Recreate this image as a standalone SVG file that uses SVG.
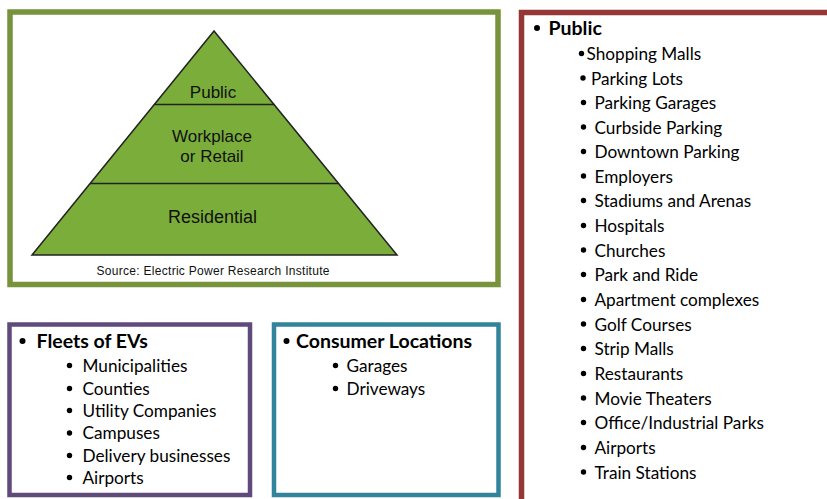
<svg xmlns="http://www.w3.org/2000/svg" width="827" height="499" viewBox="0 0 827 499">
<style>
.box{fill:#ffffff;}
.lvl{fill:#7aad3a;stroke:#222;stroke-width:1.5;}
.pt{font-family:"Liberation Sans",Arial,sans-serif;fill:#111;text-anchor:middle;}
.h{font-family:Lato,"Liberation Sans",sans-serif;font-weight:bold;font-size:19.5px;fill:#000;}
.i{font-family:Lato,"Liberation Sans",sans-serif;font-size:17.2px;fill:#000;}
.b{fill:#000;}
</style>
<rect width="827" height="499" fill="#fff"/>
<g id="pyramid-box">
<rect class="box" x="10" y="12" width="488" height="272.5" stroke="#77933c" stroke-width="5.5"/>
<polygon class="lvl" points="214,31 32,255 397,255"/>
<line x1="154.5" y1="104.5" x2="274.5" y2="104.5" stroke="#222" stroke-width="1.5"/>
<line x1="90" y1="183.5" x2="338.5" y2="183.5" stroke="#222" stroke-width="1.5"/>
<text class="pt" x="213" y="98" font-size="17">Public</text>
<text class="pt" x="212" y="141.5" font-size="17">Workplace</text>
<text class="pt" x="212" y="161.5" font-size="17">or Retail</text>
<text class="pt" x="212.5" y="223" font-size="18">Residential</text>
<text class="pt" x="213" y="275" font-size="12" textLength="233">Source: Electric Power Research Institute</text>
</g>
<g id="public-box">
<rect class="box" x="521.5" y="12.5" width="330" height="500" stroke="#953735" stroke-width="5.5"/>
<circle class="b" cx="537" cy="28" r="3"/>
<text class="h" x="548.5" y="35">Public</text>
<circle class="b" cx="581.5" cy="53.5" r="2.7"/>
<text class="i" x="586.5" y="60">Shopping Malls</text>
<circle class="b" cx="583" cy="78" r="2.7"/>
<text class="i" x="591" y="85">Parking Lots</text>
<g class="i">
<text x="594.5" y="109">Parking Garages</text>
<text x="594.5" y="133.5">Curbside Parking</text>
<text x="594.5" y="158">Downtown Parking</text>
<text x="594.5" y="182.5">Employers</text>
<text x="594.5" y="207">Stadiums and Arenas</text>
<text x="594.5" y="232">Hospitals</text>
<text x="594.5" y="256.5">Churches</text>
<text x="594.5" y="281">Park and Ride</text>
<text x="594.5" y="306">Apartment complexes</text>
<text x="594.5" y="330.5">Golf Courses</text>
<text x="594.5" y="355">Strip Malls</text>
<text x="594.5" y="380">Restaurants</text>
<text x="594.5" y="404.5">Movie Theaters</text>
<text x="594.5" y="429">Office/Industrial Parks</text>
<text x="594.5" y="454">Airports</text>
<text x="594.5" y="478.5">Train Stations</text>
</g>
<g class="b">
<circle cx="583.5" cy="102.5" r="2.7"/>
<circle cx="583.5" cy="127" r="2.7"/>
<circle cx="583.5" cy="151.5" r="2.7"/>
<circle cx="583.5" cy="176" r="2.7"/>
<circle cx="583.5" cy="200.5" r="2.7"/>
<circle cx="583.5" cy="225.5" r="2.7"/>
<circle cx="583.5" cy="250" r="2.7"/>
<circle cx="583.5" cy="274.5" r="2.7"/>
<circle cx="583.5" cy="299.5" r="2.7"/>
<circle cx="583.5" cy="324" r="2.7"/>
<circle cx="583.5" cy="348.5" r="2.7"/>
<circle cx="583.5" cy="373.5" r="2.7"/>
<circle cx="583.5" cy="398" r="2.7"/>
<circle cx="583.5" cy="422.5" r="2.7"/>
<circle cx="583.5" cy="447.5" r="2.7"/>
<circle cx="583.5" cy="472" r="2.7"/>
</g>
</g>
<g id="fleets-box">
<rect class="box" x="9.5" y="324.5" width="240.5" height="170.5" stroke="#604a7b" stroke-width="4.5"/>
<circle class="b" cx="22.5" cy="341" r="3"/>
<text class="h" x="36.5" y="348">Fleets of EVs</text>
<g class="i">
<text x="82.5" y="371.5">Municipalities</text>
<text x="82.5" y="394.5">Counties</text>
<text x="82.5" y="416.5">Utility Companies</text>
<text x="82.5" y="439">Campuses</text>
<text x="82.5" y="461.5">Delivery businesses</text>
<text x="82.5" y="483.5">Airports</text>
</g>
<g class="b">
<circle cx="69.5" cy="365.5" r="2.7"/>
<circle cx="69.5" cy="388.5" r="2.7"/>
<circle cx="69.5" cy="410.5" r="2.7"/>
<circle cx="69.5" cy="433" r="2.7"/>
<circle cx="69.5" cy="455.5" r="2.7"/>
<circle cx="69.5" cy="477.5" r="2.7"/>
</g>
</g>
<g id="consumer-box">
<rect class="box" x="274" y="324.5" width="224.5" height="170.5" stroke="#31849b" stroke-width="4.5"/>
<circle class="b" cx="286.5" cy="341" r="3"/>
<text class="h" x="296" y="348">Consumer Locations</text>
<circle class="b" cx="335.5" cy="365.5" r="2.7"/>
<text class="i" x="346.5" y="371.5">Garages</text>
<circle class="b" cx="335.5" cy="388.5" r="2.7"/>
<text class="i" x="346.5" y="394.5">Driveways</text>
</g>
<g id="connectors"/>
</svg>
